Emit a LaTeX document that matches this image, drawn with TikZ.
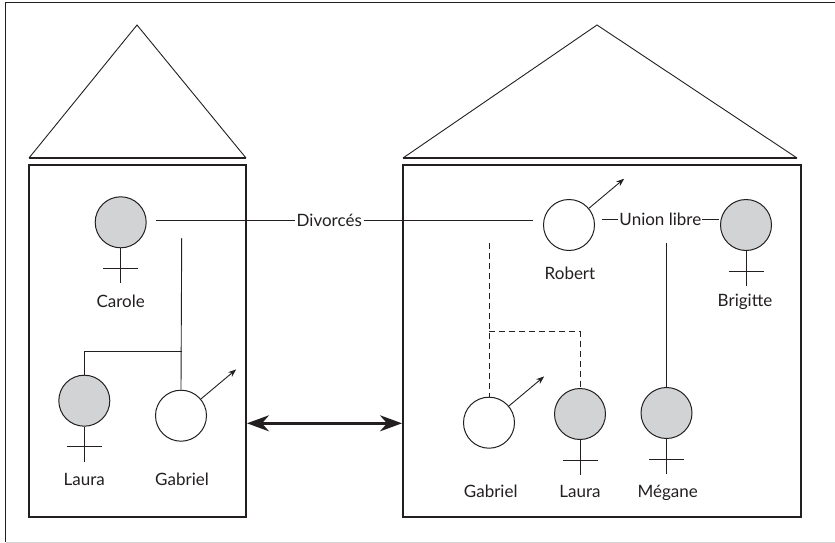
\documentclass[tikz,border=0pt]{standalone}
\usepackage{fontspec}
\setmainfont{Lato}
\usepackage{tikz}
\usetikzlibrary{calc}
\usetikzlibrary{arrows.meta}

\definecolor{encre}{HTML}{231F20}
\definecolor{gris}{HTML}{D1D3D4}

\tikzset{
  femme/.style={circle,draw=encre,fill=gris,line width=1pt,minimum size=51pt,inner sep=0pt},
  homme/.style={circle,draw=encre,fill=white,line width=1pt,minimum size=51pt,inner sep=0pt},
  nom/.style={font=\fontsize{17}{20}\selectfont,text=encre,anchor=base,inner sep=0pt},
  trait/.style={draw=encre,line width=0.9pt},
  maison/.style={draw=encre,line width=1.6pt},
  fleche/.style={trait,-{Stealth[length=8pt,width=6pt]}},
  pointe/.tip={Stealth[length=22pt,width=16pt,inset=7pt]}
}

\begin{document}
\begin{tikzpicture}[x=1pt,y=-1pt]
  % Constants
  \pgfmathsetmacro\tige{35}
  \pgfmathsetmacro\barre{20}
  \pgfmathsetmacro\demi{17.5}
  % Boundary
  \path[use as bounding box] (0,0) rectangle (835,543);
  \draw[encre,line width=0.8pt] (5.5,542) -- (5.5,2.7) -- (836,2.7);
  \draw[gris,line width=1pt] (5.5,542) -- (836,542);
  % Houses
  \draw[trait] (29,158) -- (137,25) -- (246,158);
  \draw[maison] (29,158) -- (246,158);
  \draw[maison] (29,165) rectangle (246,517);
  \draw[trait] (403,158) -- (597,25) -- (797,158);
  \draw[maison] (403,158) -- (797,158);
  \draw[maison] (403,165) rectangle (801,517);
  \coordinate (mur1) at (247,423.3);
  \coordinate (mur2) at (402,423.3);
  \draw[encre,line width=2.4pt,pointe-pointe] (mur1) -- (mur2);
  % People, first house
  \node[femme] (carole) at (120.7,222.3) {};
  \node[femme] (laura1) at (84.3,400.7) {};
  \node[homme] (gabriel1) at (181,415.7) {};
  % People, second house
  \node[homme] (robert) at (569,225) {};
  \node[femme] (brigitte) at (746,225) {};
  \node[homme] (gabriel2) at (489,422.7) {};
  \node[femme] (laura2) at (580,414) {};
  \node[femme] (megane) at (666.5,413) {};
  % Venus crosses
  \foreach \p in {carole,laura1,brigitte,laura2,megane}{
    \draw[trait] (\p.south) -- ++(0,\tige);
    \draw[trait] ($(\p.south)+(-\demi,\barre)$) -- ++(2*\demi,0);
  }
  % Mars arrows
  \foreach \p in {gabriel1,robert,gabriel2}{
    \draw[fleche] (\p.40) -- ++(-40:46);
  }
  % Names
  \node[nom] (nCarole) at (120.7,307.3) {Carole};
  \node[nom] (nLaura1) at (84.3,485) {Laura};
  \node[nom] (nGabriel1) at (182,485) {Gabriel};
  \node[nom] (nRobert) at (570,279.3) {Robert};
  \node[nom] (nBrigitte) at (745,306) {Brigitte};
  \node[nom] (nGabriel2) at (490.7,497) {Gabriel};
  \node[nom] (nLaura2) at (580,497) {Laura};
  \node[nom] (nMegane) at (667.7,497) {Mégane};
  % Couples
  \coordinate (div1) at (155.7,220);
  \coordinate (div2) at (533,220);
  \draw[trait] (div1) -- (div2) node[pos=0.46,fill=white,font=\fontsize{17}{20}\selectfont,text=encre,inner sep=2pt] {Divorcés};
  \coordinate (ul1) at (601.7,219);
  \coordinate (ul2) at (719,219);
  \draw[trait] (ul1) -- (ul2) node[midway,fill=white,font=\fontsize{17}{20}\selectfont,text=encre,inner sep=1pt] {Union libre};
  % Children
  \coordinate (fil1) at (181.7,238);
  \coordinate (fourche1) at (181.7,351);
  \draw[trait] (fil1) -- (gabriel1.north);
  \draw[trait] (fourche1) -| (laura1.north);
  \coordinate (fil2) at (489,242.7);
  \coordinate (fourche2) at (489,331.7);
  \draw[trait,dashed,dash pattern=on 6pt off 4pt] (fil2) -- (gabriel2.north);
  \draw[trait,dashed,dash pattern=on 6pt off 4pt] (fourche2) -| (laura2.north);
  \coordinate (fil3) at (666.5,242.7);
  \draw[trait] (fil3) -- (megane.north);
\end{tikzpicture}
\end{document}
